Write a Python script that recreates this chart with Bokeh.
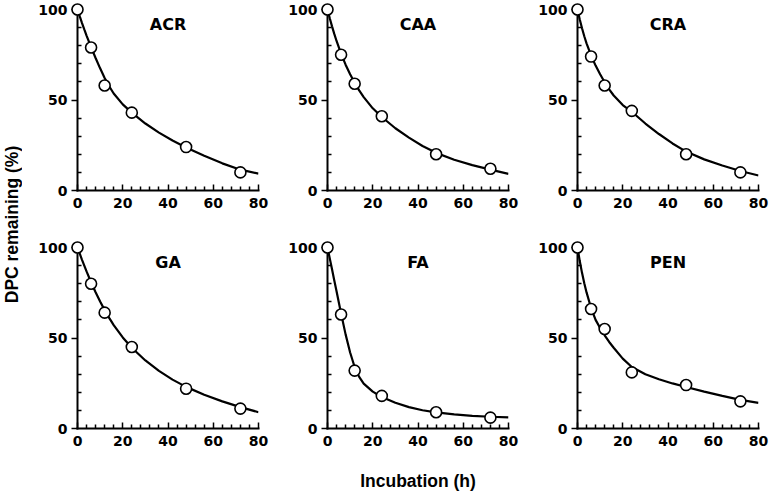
import math
from bokeh.plotting import figure
from bokeh.layouts import row, column
from bokeh.models import Range1d, LinearAxis, FixedTicker, Label
from bokeh.core.properties import value
from bokeh.embed import file_html
from bokeh.resources import INLINE

# ---------------- data ----------------
hours = [0, 6, 12, 24, 48, 72]
acr = [100, 79, 58, 43, 24, 10]
caa = [100, 75, 59, 41, 20, 12]
cra = [100, 74, 58, 44, 20, 10]
ga = [100, 80, 64, 45, 22, 11]
fa = [100, 63, 32, 18, 9, 6]
pen = [100, 66, 55, 31, 24, 15]

fit_hours = [0, 1, 2, 3, 4, 6, 8, 10, 12, 14, 16, 20, 24, 30, 36, 42, 48, 56, 64, 72, 80]
acr_fit = [100, 96.2, 92.5, 89, 85.6, 79.2, 73.2, 67.5, 62.2, 57.6, 53.6, 47.6, 43, 37, 32, 27.6, 23.8, 19.2, 15, 11.5, 9.3]
caa_fit = [100, 95.2, 90.7, 86.5, 82.6, 75.6, 69.5, 64.2, 59.5, 55.3, 51.6, 45.4, 40.6, 34.4, 29.2, 24.6, 20.8, 17.0, 14.0, 11.5, 9.2]
cra_fit = [100, 94.5, 89.6, 85.2, 81.3, 74.6, 69, 64.2, 59.8, 55.9, 52.5, 47.2, 43.5, 37, 31.2, 26, 21.5, 17.2, 13.8, 10.8, 8.3]
ga_fit = [100, 96.6, 93.2, 90, 86.8, 80.8, 75.3, 70.2, 65.4, 61.1, 57.1, 50.3, 44.6, 37.6, 31.8, 27, 23, 18.6, 15, 11.8, 9]
fa_fit = [100, 94, 88, 81.8, 75.8, 63.5, 52, 42, 34, 28.5, 24.8, 20.4, 17.4, 14.2, 11.8, 10.1, 8.9, 7.8, 7, 6.5, 6.1]
pen_fit = [100, 92.5, 86, 80.3, 75.2, 66.6, 60, 55.5, 51.5, 47.8, 44.6, 38.6, 34, 30, 27.2, 24.9, 22.9, 20.4, 18, 15.8, 14.2]

titles = ["ACR", "CAA", "CRA", "GA", "FA", "PEN"]
observed = [acr, caa, cra, ga, fa, pen]
fitted = [acr_fit, caa_fit, cra_fit, ga_fit, fa_fit, pen_fit]

x_ticks = [0, 20, 40, 60, 80]
x_minor_ticks = [4, 8, 12, 16, 24, 28, 32, 36, 44, 48, 52, 56, 64, 68, 72, 76]
y_ticks = [0, 50, 100]
y_minor_ticks = [10, 20, 30, 40, 60, 70, 80, 90]

y_title = "DPC remaining (%)"
x_title = "Incubation (h)"

TICK_FONT = "DejaVu Sans"
AXIS_TITLE_FONT = "Liberation Sans"

LW = 22          # width of left title strip
FW = 181         # frame width
FH = 181         # frame height


def style_axis(ax):
    ax.axis_line_width = 2
    ax.axis_line_color = "black"
    ax.axis_line_cap = "square"
    ax.major_tick_line_width = 1.5
    ax.minor_tick_line_width = 1.5
    ax.major_tick_line_color = "black"
    ax.minor_tick_line_color = "black"
    ax.major_label_text_font = TICK_FONT
    ax.major_label_text_font_size = "14px"
    ax.major_label_text_font_style = "bold"
    ax.major_label_text_color = "black"


def panel(idx):
    r, c = divmod(idx, 3)
    left = 55 if c == 0 else 52
    right = 12 if c == 2 else 17
    top = 9
    bottom = 48 if r == 0 else 25
    p = figure(width=left + FW + right, height=top + FH + bottom,
               x_range=Range1d(0, 80), y_range=Range1d(0, 100),
               x_axis_type=None, y_axis_type=None,
               output_backend="svg", toolbar_location=None,
               min_border_left=left, min_border_right=right,
               min_border_top=top, min_border_bottom=bottom)
    p.outline_line_color = None
    p.background_fill_color = "white"
    p.border_fill_color = "white"

    xa = LinearAxis(ticker=FixedTicker(ticks=x_ticks, minor_ticks=x_minor_ticks))
    style_axis(xa)
    xa.major_tick_in = 6
    xa.major_tick_out = 0
    xa.minor_tick_in = 4
    xa.minor_tick_out = 0
    xa.major_label_standoff = 7
    p.add_layout(xa, "below")

    ya = LinearAxis(ticker=FixedTicker(ticks=y_ticks, minor_ticks=y_minor_ticks))
    style_axis(ya)
    ya.major_tick_in = 0
    ya.major_tick_out = 6
    ya.minor_tick_in = 4
    ya.minor_tick_out = 0
    ya.major_label_standoff = 4
    p.add_layout(ya, "left")

    p.line(fit_hours, fitted[idx], line_width=2.2, line_color="black")
    p.scatter(hours, observed[idx], size=11, fill_color="white",
              line_color="black", line_width=1.6, level="overlay")
    p.text(x=[40], y=[91.5], text=[titles[idx]], text_font=value(TICK_FONT),
           text_font_style="bold", text_font_size="16px",
           text_align="center", text_baseline="middle", text_color="black")
    return p


panels = [panel(i) for i in range(6)]
row1 = row(*panels[:3])
row2 = row(*panels[3:])

rows_h = panels[0].height + panels[3].height
total_w = LW + sum(p.width for p in panels[:3])

lf = figure(width=LW, height=rows_h, x_range=Range1d(0, LW), y_range=Range1d(0, rows_h),
            x_axis_type=None, y_axis_type=None, output_backend="svg",
            toolbar_location=None, min_border=0)
lf.outline_line_color = None
lf.add_layout(Label(x=11, y=rows_h - 224, text=y_title, angle=math.pi / 2,
                    text_align="center", text_baseline="middle",
                    text_font=AXIS_TITLE_FONT, text_font_size="17.5px",
                    text_font_style="bold", text_color="black"))

BH = 38
bf = figure(width=total_w, height=BH, x_range=Range1d(0, total_w), y_range=Range1d(0, BH),
            x_axis_type=None, y_axis_type=None, output_backend="svg",
            toolbar_location=None, min_border=0)
bf.outline_line_color = None
col2_x0 = LW + panels[0].width + 52
bf.add_layout(Label(x=col2_x0 + FW / 2, y=11, text=x_title,
                    text_align="center", text_baseline="alphabetic",
                    text_font=AXIS_TITLE_FONT, text_font_size="17.5px",
                    text_font_style="bold", text_color="black"))

layout = column(row(lf, column(row1, row2)), bf)

open("out.html", "w").write(file_html(layout, INLINE))
